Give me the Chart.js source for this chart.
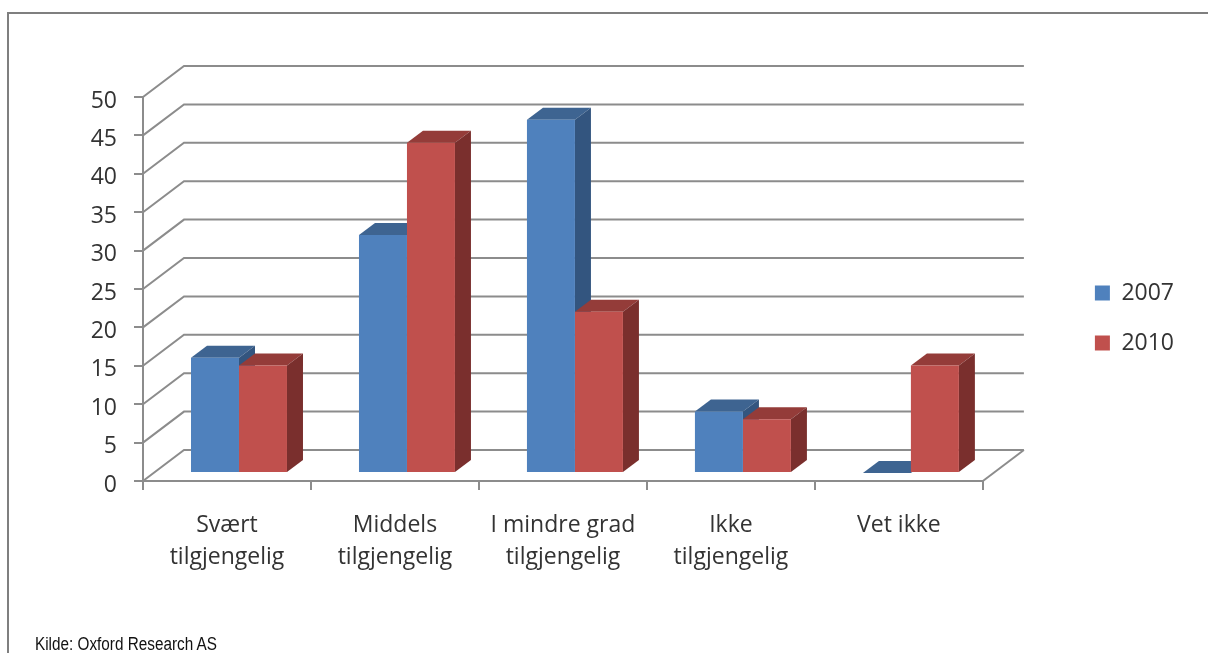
<!DOCTYPE html>
<html>
<head>
<meta charset="utf-8">
<script src="https://cdn.jsdelivr.net/npm/chart.js@4/dist/chart.umd.min.js"></script>
<style>
    html, body { margin: 0; padding: 0; background: #fff; overflow: hidden; }
    #wrap { position: relative; width: 1208px; height: 653px; }
    #frame { position: absolute; left: 7px; top: 12px; right: 0; bottom: 0; border-left: 2px solid #7f7f7f; border-top: 2px solid #7f7f7f; }
    #source { position: absolute; left: 35px; top: 634px; font: 18px "Liberation Sans", Arial, sans-serif; color: #111; white-space: nowrap; transform: scaleX(0.85); transform-origin: left top; }
    canvas { position: absolute; left: 0; top: 0; }
</style>
</head>
<body>
<div id="wrap">
    <div id="frame"></div>
    <canvas id="chart" width="1208" height="653"></canvas>
    <div id="source">Kilde: Oxford Research AS</div>
</div>
<script>
const categories = [
    ['Svært', 'tilgjengelig'],
    ['Middels', 'tilgjengelig'],
    ['I mindre grad', 'tilgjengelig'],
    ['Ikke', 'tilgjengelig'],
    'Vet ikke'
];
const values2007 = [15, 31, 46, 8, 0];
const values2010 = [14, 43, 21, 7, 14];
const seriesNames = ['2007', '2010'];

const FONT = '"Open Sans", sans-serif';
const TEXT = '#333333';
const GRID = '#8c8c8c';

// fake 3d: how far the back wall and the bars sit behind the axis plane
const WALL_DX = 41, WALL_DY = -31;
const BAR_DX = 12, BAR_DY = -8;
const DEPTH_DX = 16, DEPTH_DY = -12;

const shades = [
    { top: '#3e6491', side: '#33557f' },
    { top: '#943c39', side: '#7a2f2d' }
];

function poly(ctx, pts, color) {
    ctx.fillStyle = color;
    ctx.beginPath();
    pts.forEach((p, i) => i ? ctx.lineTo(p[0], p[1]) : ctx.moveTo(p[0], p[1]));
    ctx.closePath();
    ctx.fill();
}

function drawWalls(chart) {
    const { ctx, scales: { x, y } } = chart;
    ctx.save();
    ctx.strokeStyle = GRID;
    ctx.lineWidth = 2;
    y.ticks.forEach(t => {
        const py = y.getPixelForValue(t.value);
        ctx.beginPath();
        ctx.moveTo(x.left, py);
        ctx.lineTo(x.left + WALL_DX, py + WALL_DY);
        ctx.lineTo(x.right + WALL_DX, py + WALL_DY);
        ctx.stroke();
    });
    // floor edge on the right
    const base = y.getPixelForValue(0);
    ctx.beginPath();
    ctx.moveTo(x.right, base);
    ctx.lineTo(x.right + WALL_DX, base + WALL_DY);
    ctx.stroke();
    ctx.restore();
}

// top and side faces, blue first so red covers the blue side;
// the front faces are then painted over these by the bar controller
function drawDepthFaces(chart) {
    const ctx = chart.ctx;
    shades.forEach((c, i) => {
        chart.getDatasetMeta(i).data.forEach(bar => {
            const p = bar.getProps(['x', 'y', 'base', 'width'], true);
            const l = p.x - p.width / 2, r = p.x + p.width / 2;
            poly(ctx, [[l, p.y], [l + DEPTH_DX, p.y + DEPTH_DY], [r + DEPTH_DX, p.y + DEPTH_DY], [r, p.y]], c.top);
            if (p.base - p.y > 0) {
                poly(ctx, [[r, p.y], [r + DEPTH_DX, p.y + DEPTH_DY], [r + DEPTH_DX, p.base + DEPTH_DY], [r, p.base]], c.side);
            }
        });
    });
}

const box3d = {
    id: 'box3d',
    beforeDatasetsDraw(chart) {
        drawWalls(chart);
        chart.ctx.save();
        chart.ctx.translate(BAR_DX, BAR_DY);
        drawDepthFaces(chart);
    },
    afterDatasetsDraw(chart) {
        chart.ctx.restore();
    }
};

new Chart(document.getElementById('chart'), {
    type: 'bar',
    data: {
        labels: categories,
        datasets: [
            { label: seriesNames[0], data: values2007, backgroundColor: '#4f81bd', clip: false },
            { label: seriesNames[1], data: values2010, backgroundColor: '#c0504d', clip: false }
        ]
    },
    options: {
        responsive: false,
        animation: false,
        categoryPercentage: 0.5714,
        barPercentage: 1,
        layout: { padding: { left: 0, top: 51, right: 24, bottom: 68 } },
        scales: {
            x: {
                afterFit(s) { s.height = 104; },
                border: { color: GRID, width: 2 },
                grid: { drawOnChartArea: false, color: GRID, lineWidth: 2, tickLength: 9 },
                ticks: {
                    autoSkip: false, maxRotation: 0, padding: 19, color: TEXT,
                    font: { family: FONT, size: 23, lineHeight: 1.39 }
                }
            },
            y: {
                min: 0,
                max: 50,
                afterFit(s) { s.width = 143; },
                border: { color: GRID, width: 2 },
                grid: { drawOnChartArea: false, color: GRID, lineWidth: 2, tickLength: 9 },
                ticks: {
                    stepSize: 5, padding: 17, color: TEXT,
                    // blank first line nudges the number just below its tick
                    callback: v => ['', String(v)],
                    font: { family: FONT, size: 23, lineHeight: 0.35 }
                }
            },
            // empty axes, they keep room around the plot
            gapRight: {
                position: 'right',
                afterFit(s) { s.width = 85; },
                border: { display: false },
                grid: { display: false },
                ticks: { display: false }
            },
            gapTop: {
                position: 'top',
                afterFit(s) { s.height = 46; },
                border: { display: false },
                grid: { display: false },
                ticks: { display: false }
            }
        },
        plugins: {
            title: { display: false },
            tooltip: { enabled: false },
            legend: {
                position: 'right',
                labels: {
                    boxWidth: 15, boxHeight: 15, padding: 27, color: TEXT,
                    font: { family: FONT, size: 23 }
                }
            }
        }
    },
    plugins: [box3d]
});
</script>
</body>
</html>
